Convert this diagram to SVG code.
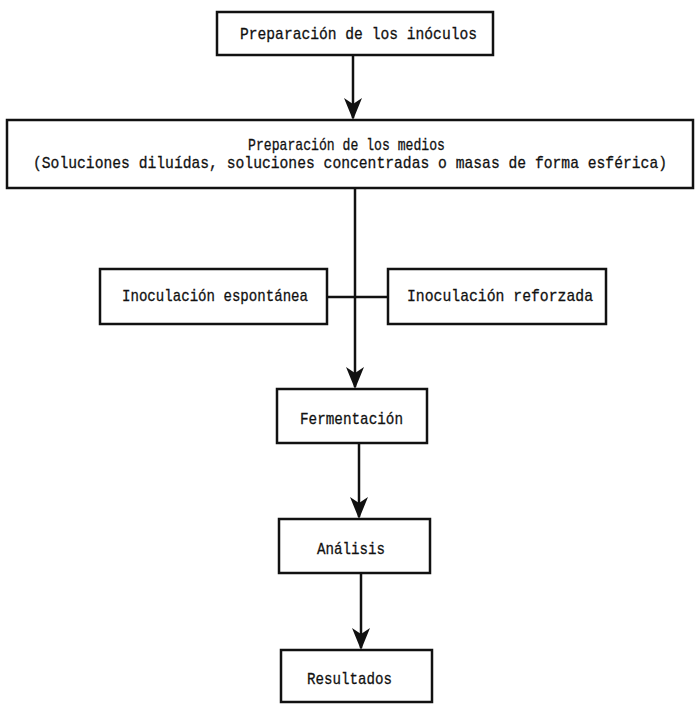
<svg xmlns="http://www.w3.org/2000/svg" width="695" height="705" viewBox="0 0 695 705">
<style>
.box{fill:#fff;stroke:#111;stroke-width:2.5}
.t{font-family:"Liberation Mono","DejaVu Sans Mono",monospace;font-size:17px;fill:#111;stroke:#111;stroke-width:0.3}
.ln{stroke:#111;stroke-width:2.5;fill:none}
.ah{fill:#111}
</style>
<rect width="695" height="705" fill="#fff"/>
<g id="connectors">
<path class="ln" d="M353,55 V118"/>
<path class="ah" d="M344,98 L353,104 L362,98 L353,120 Z"/>
<path class="ln" d="M355,188 V387"/>
<path class="ah" d="M346,367 L355,373 L364,367 L355,389 Z"/>
<path class="ln" d="M327,297 H388"/>
<path class="ln" d="M359,443 V517"/>
<path class="ah" d="M350,497 L359,503 L368,497 L359,519 Z"/>
<path class="ln" d="M361,573 V648"/>
<path class="ah" d="M352,628 L361,634 L370,628 L361,650 Z"/>
</g>
<g id="n1">
<rect class="box" x="217" y="12" width="276" height="43"/>
<text class="t" x="240" y="39" textLength="237" lengthAdjust="spacingAndGlyphs">Preparación de los inóculos</text>
</g>
<g id="n2">
<rect class="box" x="7" y="120" width="686" height="68"/>
<text class="t" x="248" y="150" textLength="197" lengthAdjust="spacingAndGlyphs">Preparación de los medios</text>
<text class="t" x="33" y="168" textLength="634" lengthAdjust="spacingAndGlyphs">(Soluciones diluídas, soluciones concentradas o masas de forma esférica)</text>
</g>
<g id="n3">
<rect class="box" x="100" y="269" width="227" height="55"/>
<text class="t" x="122" y="301" textLength="186" lengthAdjust="spacingAndGlyphs">Inoculación espontánea</text>
</g>
<g id="n4">
<rect class="box" x="388" y="269" width="218" height="55"/>
<text class="t" x="407" y="301" textLength="186" lengthAdjust="spacingAndGlyphs">Inoculación reforzada</text>
</g>
<g id="n5">
<rect class="box" x="277" y="389" width="150" height="54"/>
<text class="t" x="300" y="424" textLength="103" lengthAdjust="spacingAndGlyphs">Fermentación</text>
</g>
<g id="n6">
<rect class="box" x="279" y="519" width="151" height="54"/>
<text class="t" x="317" y="554" textLength="68" lengthAdjust="spacingAndGlyphs">Análisis</text>
</g>
<g id="n7">
<rect class="box" x="281" y="650" width="151" height="52"/>
<text class="t" x="307" y="684" textLength="85" lengthAdjust="spacingAndGlyphs">Resultados</text>
</g>
</svg>
